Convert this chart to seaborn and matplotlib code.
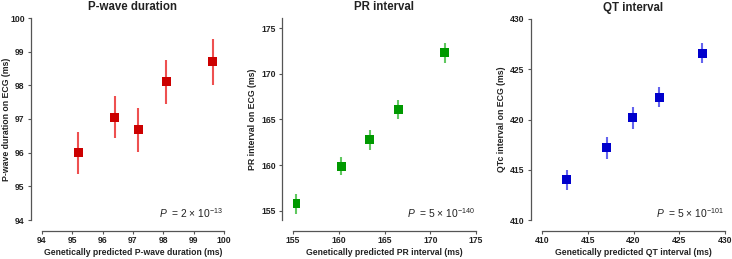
import numpy as np
import pandas as pd
import seaborn as sns
import matplotlib.pyplot as plt

sns.set_style('ticks')
plt.rcParams['font.family'] = ['Liberation Sans', 'DejaVu Sans']
plt.rcParams['mathtext.fontset'] = 'custom'
plt.rcParams['mathtext.it'] = 'Liberation Sans:italic'
plt.rcParams['mathtext.rm'] = 'Liberation Sans'

# P-wave duration
pw_pred = [95.2, 96.4, 97.17, 98.1, 99.63]
pw_obs = [96.0, 97.05, 96.68, 98.1, 98.7]
pw_lo = [95.38, 96.43, 96.03, 97.45, 98.0]
pw_hi = [96.62, 97.67, 97.33, 98.75, 99.37]

# PR interval
pr_pred = [155.3, 160.3, 163.4, 166.5, 171.6]
pr_obs = [155.8, 159.9, 162.8, 166.05, 172.3]
pr_lo = [154.7, 158.9, 161.7, 165.0, 171.2]
pr_hi = [156.8, 160.9, 163.9, 167.1, 173.4]

# QT interval
qt_pred = [412.7, 417.1, 419.9, 422.8, 427.5]
qt_obs = [414.0, 417.2, 420.2, 422.2, 426.6]
qt_lo = [413.0, 416.1, 419.1, 421.2, 425.6]
qt_hi = [415.0, 418.3, 421.2, 423.2, 427.6]

panels = [
    dict(title='P-wave duration', pred=pw_pred, obs=pw_obs, lo=pw_lo, hi=pw_hi,
         xlab='Genetically predicted P-wave duration (ms)', ylab='P-wave duration on ECG (ms)',
         ptxt=r'$P$  = 2 × 10$^{-13}$', ticks=[94, 95, 96, 97, 98, 99, 100], lim=(94, 100), ylim=(94, 100),
         col='#cc0000', ecol='#ee5050', box=(42, 224, 18, 220), ylx=-0.173),
    dict(title='PR interval', pred=pr_pred, obs=pr_obs, lo=pr_lo, hi=pr_hi,
         xlab='Genetically predicted PR interval (ms)', ylab='PR interval on ECG (ms)',
         ptxt=r'$P$  = 5 × 10$^{-140}$', ticks=[155, 160, 165, 170, 175], lim=(155, 175), ylim=(154.0, 176.1),
         col='#009900', ecol='#60c860', box=(293, 476, 18, 220), ylx=-0.199),
    dict(title='QT interval', pred=qt_pred, obs=qt_obs, lo=qt_lo, hi=qt_hi,
         xlab='Genetically predicted QT interval (ms)', ylab='QTc interval on ECG (ms)',
         ptxt=r'$P$  = 5 × 10$^{-101}$', ticks=[410, 415, 420, 425, 430], lim=(410, 430), ylim=(410, 430),
         col='#0000cc', ecol='#6464ee', box=(542, 725, 19, 220), ylx=-0.194),
]

W, H = 732, 259
fig = plt.figure(figsize=(W / 100, H / 100), dpi=100)

for p in panels:
    x0, x1, y0, y1 = p['box']
    ax = fig.add_axes([x0 / W, 1 - y1 / H, (x1 - x0) / W, (y1 - y0) / H])
    df = pd.DataFrame({'pred': p['pred'], 'obs': p['obs'], 'lo': p['lo'], 'hi': p['hi']})
    ax.vlines(df['pred'], df['lo'], df['hi'], color=p['ecol'], lw=1.5, zorder=2)
    sns.scatterplot(data=df, x='pred', y='obs', marker='s', s=42, color=p['col'],
                    edgecolor='none', ax=ax, zorder=3)
    ax.set_xlim(p['lim'])
    ax.set_ylim(p['ylim'])
    ax.set_xticks(p['ticks'])
    ax.set_yticks(p['ticks'])
    for s in ['top', 'right']:
        ax.spines[s].set_visible(False)
    ax.spines['left'].set_position(('outward', 8))
    ax.spines['bottom'].set_position(('outward', 8))
    ax.spines['bottom'].set_bounds(p['lim'])
    for s in ['left', 'bottom']:
        ax.spines[s].set_color('#555555')
        ax.spines[s].set_linewidth(0.9)
    ax.tick_params(labelsize=6.2, length=2.5, width=0.8, color='#555555', pad=2)
    ax.tick_params(axis='x', pad=1)
    for lab in ax.get_xticklabels() + ax.get_yticklabels():
        lab.set_fontweight('bold')
        lab.set_color('#222222')
    ax.set_xlabel(p['xlab'], fontsize=6.2, fontweight='bold', labelpad=2.5, color='#222222')
    ax.set_ylabel(p['ylab'], fontsize=6.3, fontweight='bold', color='#222222')
    ax.yaxis.set_label_coords(p['ylx'], 0.5)
    ax.set_title(p['title'], fontsize=8.3, fontweight='bold', pad=5.5, color='#222222')
    ax.text(0.995, 0.0, p['ptxt'], transform=ax.transAxes, ha='right', va='bottom', fontsize=7.4,
            color='#222222')

fig.savefig('out.png', dpi=100)
